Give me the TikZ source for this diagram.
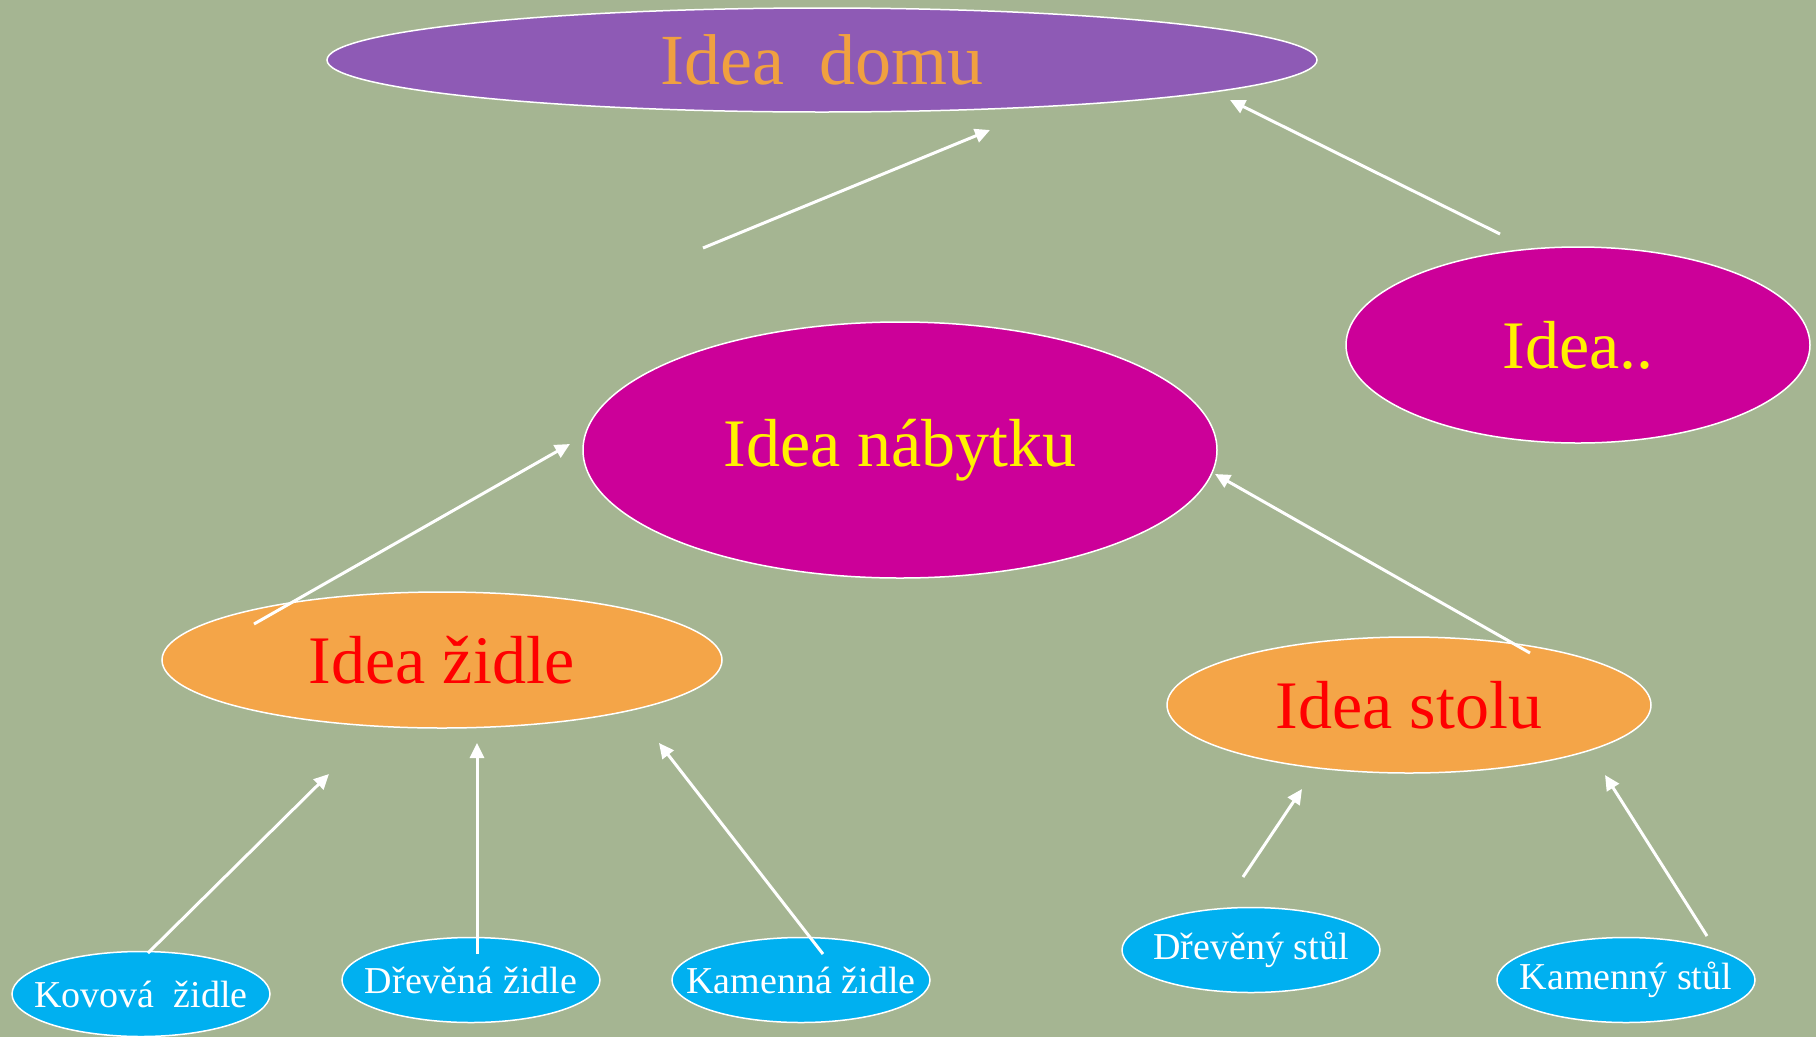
\documentclass[tikz,border=0pt]{standalone}
\usepackage{fontspec}
\setmainfont{Liberation Serif}
\usepackage{tikz}
\usetikzlibrary{positioning,shapes.geometric,arrows.meta}

\definecolor{bgolive}{RGB}{165,181,146}
\definecolor{ideapurple}{RGB}{142,90,181}
\definecolor{ideamagenta}{RGB}{204,0,153}
\definecolor{ideaorange}{RGB}{244,165,72}
\definecolor{ideacyan}{RGB}{0,176,240}
\definecolor{domutext}{RGB}{240,160,64}

\begin{document}
\begin{tikzpicture}[
	x=1pt, y=-1pt,
	oval/.style={ellipse, draw=white, line width=1.5pt, inner sep=0pt},
	top/.style={oval, fill=ideapurple,
		label={[text=domutext, font=\fontsize{72}{74}\selectfont]center:#1}},
	big/.style={oval, fill=ideamagenta,
		label={[text=yellow, font=\fontsize{68}{70}\selectfont]center:#1}},
	mid/.style={oval, fill=ideaorange,
		label={[text=red, font=\fontsize{68}{70}\selectfont]center:#1}},
	leaf/.style={oval, fill=ideacyan, minimum width=258pt, minimum height=85pt,
		label={[text=white, font=\fontsize{38}{40}\selectfont]center:#1}},
	up/.style={draw=white, line width=3pt, -{Triangle[length=15pt,width=14pt]}}
	]
	\fill[bgolive] (0,0) rectangle (1816,1037);
	\useasboundingbox (0,0) rectangle (1816,1037);

	\node (domu) [top={Idea\ \ domu}, minimum width=990pt, minimum height=104pt] at (822,60) {};
	\node (nabytek) [big={Idea nábytku}, minimum width=634pt, minimum height=256pt] at (900,450) {};
	\node (dalsi) [big={Idea..}, minimum width=464pt, minimum height=196pt] at (1578,345) {};
	\node (zidle) [mid={Idea židle}, minimum width=560pt, minimum height=136pt] at (442,660) {};
	\node (stul) [mid={Idea stolu}, minimum width=484pt, minimum height=136pt] at (1409,705) {};

	\node (kovz) [leaf={Kovová\ \ židle}] at (141,994) {};
	\node (drevz) [leaf={Dřevěná židle}] at (471,980) {};
	\node (kamz) [leaf={Kamenná židle}] at (801,980) {};
	\node (drevs) [leaf={Dřevěný stůl}] at (1251,950) {};
	\node (kams) [leaf={Kamenný stůl}] at (1626,980) {};

	\coordinate (a1s) at (703,248);  \coordinate (a1e) at (990,130);
	\coordinate (a2s) at (1500,234); \coordinate (a2e) at (1230,100);
	\coordinate (a3s) at (254,624);  \coordinate (a3e) at (570,444);
	\coordinate (a4s) at (1530,653); \coordinate (a4e) at (1215,474);
	\coordinate (a5s) at (148,953);  \coordinate (a5e) at (329,774);
	\coordinate (a6s) at (477,954);  \coordinate (a6e) at (477,743);
	\coordinate (a7s) at (823,954);  \coordinate (a7e) at (659,743);
	\coordinate (a8s) at (1243,877); \coordinate (a8e) at (1302,789);
	\coordinate (a9s) at (1707,936); \coordinate (a9e) at (1605,775);

	\foreach \i in {1,...,9}
		\draw[up] (a\i s) -- (a\i e);
\end{tikzpicture}
\end{document}
